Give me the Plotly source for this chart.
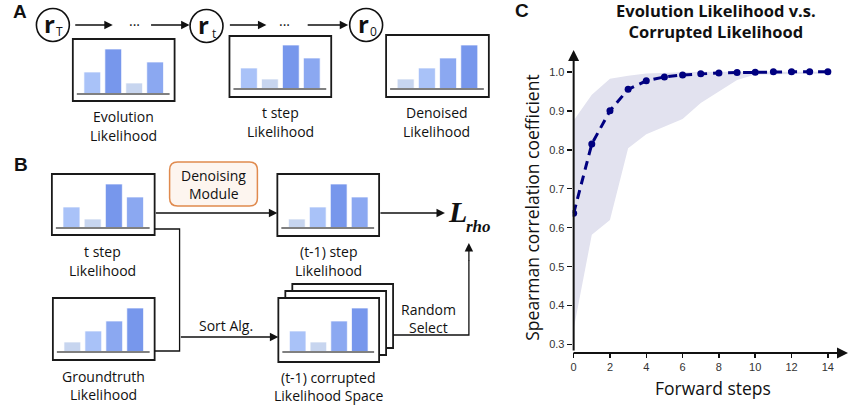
import plotly.graph_objects as go

W, H = 849, 408

# ---------------- data ----------------
steps = list(range(15))
mean_rho = [0.637, 0.815, 0.900, 0.955, 0.977, 0.987, 0.992, 0.995, 0.997, 0.998, 0.999, 1.0, 1.0, 1.0, 1.0]
upper_rho = [0.875, 0.941, 0.982, 0.990, 0.996, 0.998, 0.999, 1.0, 1.0, 1.0, 1.0, 1.0, 1.0, 1.0, 1.0]
lower_rho = [0.340, 0.582, 0.620, 0.804, 0.840, 0.860, 0.879, 0.920, 0.950, 0.979, 0.993, 0.994, 0.995, 0.995, 0.995]
x_ticks = [0, 2, 4, 6, 8, 10, 12, 14]
y_ticks = [0.3, 0.4, 0.5, 0.6, 0.7, 0.8, 0.9, 1.0]
y_tick_labels = ["0.3", "0.4", "0.5", "0.6", "0.7", "0.8", "0.9", "1.0"]

bins = [0, 1, 2, 3]
evolution_vals = [22, 45, 11, 32]
tstep_vals = [21, 10, 44, 31]
denoised_vals = [10, 21, 31, 44]
tstep_b_vals = [21, 9, 44, 31]
groundtruth_vals = [10, 21, 31, 44]
tm1_vals = [9, 21, 44, 31]
corrupted_vals = [21, 10, 31, 44]

# ---------------- helpers ----------------
def px(x):
    return x / W

def py(y):
    return 1 - y / H

FONT = "Open Sans"
CAP = 14
PALETTE = ["#c7d5ef", "#a9c2f8", "#8ba8f1", "#7797ec"]

shapes = []
annotations = []
fig = go.Figure()


def rank_colors(vals):
    order = sorted(range(len(vals)), key=lambda i: vals[i])
    cols = [None] * len(vals)
    for r, i in enumerate(order):
        cols[i] = PALETTE[r]
    return cols


def text(x, y, s, size=CAP, family=FONT, color="#111", **kw):
    annotations.append(dict(x=px(x), y=py(y), xref="paper", yref="paper", text=s,
                            showarrow=False, xanchor=kw.pop("xanchor", "center"),
                            yanchor=kw.pop("yanchor", "middle"),
                            font=dict(size=size, family=family, color=color), **kw))


def arrow(x0, y0, x1, y1, width=1.3, size=1.3, color="#111"):
    annotations.append(dict(x=px(x1), y=py(y1), xref="paper", yref="paper",
                            ax=x0 - x1, ay=y0 - y1, axref="pixel", ayref="pixel",
                            text="", showarrow=True, arrowhead=2, arrowsize=size,
                            arrowwidth=width, arrowcolor=color, standoff=0))


def line(points, width=1.3, color="#111"):
    d = "M " + " L ".join(f"{px(x)},{py(y)}" for x, y in points)
    shapes.append(dict(type="path", path=d, xref="paper", yref="paper",
                       line=dict(color=color, width=width), layer="above"))


def box(l, t, r, b, fill="white"):
    shapes.append(dict(type="rect", x0=px(l), x1=px(r), y0=py(b), y1=py(t),
                       xref="paper", yref="paper", fillcolor=fill,
                       line=dict(color="#1a1a1a", width=1.8), layer="below"))


mini_count = [1]


def mini_chart(vals, l, t, r, b, base):
    box(l, t, r, b)
    mini_count[0] += 1
    k = mini_count[0]
    fig.add_trace(go.Bar(x=bins, y=vals, xaxis=f"x{k}", yaxis=f"y{k}", width=0.8,
                         marker=dict(color=rank_colors(vals),
                                     line=dict(color="rgba(255,255,255,0.7)", width=1)),
                         hoverinfo="skip", showlegend=False))
    fig.update_layout(**{
        f"xaxis{k}": dict(domain=[px(l + 9), px(r - 9)], anchor=f"y{k}", visible=False,
                          range=[-0.5, 3.5], fixedrange=True),
        f"yaxis{k}": dict(domain=[py(base), py(base - 50)], anchor=f"x{k}", visible=False,
                          range=[0, 50], fixedrange=True),
    })
    shapes.append(dict(type="line", x0=px(l + 4), x1=px(r - 5), y0=py(base), y1=py(base),
                       xref="paper", yref="paper", line=dict(color="#808080", width=2),
                       layer="above"))


def circle(cx, cy, rad, main, sub):
    shapes.append(dict(type="circle", x0=px(cx - rad), x1=px(cx + rad), y0=py(cy + rad),
                       y1=py(cy - rad), xref="paper", yref="paper",
                       line=dict(color="#111", width=1.6), layer="above"))
    text(cx - 3, cy - 2, f"<b>{main}</b>", size=24)
    text(cx + 7, cy + 7, sub, size=12)


def rounded_rect(l, t, r, b, rad, fill, edge):
    d = (f"M {px(l + rad)},{py(t)} L {px(r - rad)},{py(t)} Q {px(r)},{py(t)} {px(r)},{py(t + rad)} "
         f"L {px(r)},{py(b - rad)} Q {px(r)},{py(b)} {px(r - rad)},{py(b)} "
         f"L {px(l + rad)},{py(b)} Q {px(l)},{py(b)} {px(l)},{py(b - rad)} "
         f"L {px(l)},{py(t + rad)} Q {px(l)},{py(t)} {px(l + rad)},{py(t)} Z")
    shapes.append(dict(type="path", path=d, xref="paper", yref="paper", fillcolor=fill,
                       line=dict(color=edge, width=1.5), layer="below"))


# ---------------- panel C : chart ----------------
fig.add_trace(go.Scatter(x=steps, y=upper_rho, mode="lines", line=dict(width=0, color="#e2e2ef"),
                         hoverinfo="skip", showlegend=False))
fig.add_trace(go.Scatter(x=steps, y=lower_rho, mode="lines", line=dict(width=0, color="#e2e2ef"),
                         fill="tonexty", fillcolor="#e2e2ef", hoverinfo="skip", showlegend=False))
fig.add_trace(go.Scatter(x=steps, y=mean_rho, mode="lines+markers",
                         line=dict(color="#000080", width=3, dash="9px,6px"),
                         marker=dict(color="#000080", size=7), showlegend=False))

x_left_px, x_right_px = 572, 849
y_top_px, y_bot_px = 50, 352
x_per = 18.2
fig.update_layout(
    xaxis=dict(domain=[px(x_left_px), 1.0], anchor="y",
               range=[-(573 - x_left_px) / x_per, (x_right_px - 573) / x_per],
               tickvals=x_ticks, ticks="outside", ticklen=5, tickwidth=1.5, tickcolor="#111",
               showline=False, showgrid=False, zeroline=False,
               tickfont=dict(family="Liberation Sans", size=11, color="#333")),
    yaxis=dict(domain=[py(y_bot_px), py(y_top_px)], anchor="x", range=[0.281, 1.056],
               tickvals=y_ticks, ticktext=y_tick_labels, ticks="outside", ticklen=5,
               tickwidth=1.5, tickcolor="#111", showline=False, showgrid=False, zeroline=False,
               tickfont=dict(family="Liberation Sans", size=11, color="#333")),
)
# axis arrows
arrow(572, 353, 848, 353, width=2, size=1.1)
arrow(573, 352, 573, 50, width=2, size=1.1)

text(716, 21, "<b>Evolution Likelihood v.s.</b><br><b>Corrupted Likelihood</b>", size=16.5)
text(713, 388, "Forward steps", size=17.5)
text(531, 208, "Spearman correlation coefficient", size=17.5, textangle=-90)

# panel letters
text(18, 11, "<b>A</b>", size=19, family="Liberation Sans")
text(19, 164, "<b>B</b>", size=19, family="Liberation Sans")
text(521, 10, "<b>C</b>", size=19, family="Liberation Sans")

# ---------------- panel A ----------------
circle(51, 25, 16.5, "r", "T")
circle(205, 26, 16.5, "r", "t")
circle(365, 25, 16.5, "r", "0")
arrow(72, 25, 111, 25)
text(133, 24, "···", size=14)
arrow(148, 25, 188, 25)
arrow(227, 25, 265, 25)
text(283, 24, "···", size=14)
arrow(305, 25, 347, 25)

mini_chart(evolution_vals, 71, 39, 173, 101, 94)
mini_chart(tstep_vals, 228, 36, 330, 97, 89)
mini_chart(denoised_vals, 385, 35, 488, 97, 89)

text(122, 117, "Evolution")
text(122, 136, "Likelihood")
text(279, 112, "t step")
text(279, 131, "Likelihood")
text(436, 112, "Denoised")
text(436, 131, "Likelihood")

# ---------------- panel B ----------------
# stacked corrupted boxes (back first)
box(291, 284, 392, 348)
box(284, 291, 385, 355)
mini_chart(tstep_b_vals, 50, 174, 153, 235, 228)
mini_chart(groundtruth_vals, 51, 298, 153, 360, 352)
mini_chart(tm1_vals, 276, 174, 378, 236, 228)
mini_chart(corrupted_vals, 277, 298, 378, 362, 352)

rounded_rect(168, 162, 256, 206, 8, "#fdf5ef", "#e08a4e")
text(212, 175, "Denoising")
text(212, 193, "Module")

arrow(153, 213, 276, 213)
line([(153, 229), (178, 229), (178, 351), (153, 351)])
arrow(178, 337, 277, 337)
text(225, 325, "Sort Alg.")

arrow(378, 213, 444, 213)
text(457, 211, "<b><i>L</i></b>", size=30, family="Liberation Serif")
text(478, 226, "<b><i>rho</i></b>", size=17, family="Liberation Serif")

line([(392, 335), (468, 335), (468, 260)])
arrow(468, 262, 468, 243)
text(428, 309, "Random")
text(428, 327, "Select")

text(101, 251, "t step")
text(101, 270, "Likelihood")
text(102, 376, "Groundtruth")
text(102, 394, "Likelihood")
text(327, 251, "(t-1) step")
text(327, 270, "Likelihood")
text(327, 377, "(t-1) corrupted")
text(327, 395, "Likelihood Space")

fig.update_layout(
    width=W, height=H, margin=dict(l=0, r=0, t=0, b=0),
    paper_bgcolor="white", plot_bgcolor="rgba(0,0,0,0)",
    shapes=shapes, annotations=annotations, showlegend=False,
    bargap=0.2,
)

fig.write_html(
    "out.html",
    config={"displayModeBar": False, "staticPlot": True},
    post_script="document.body.style.margin='0';document.body.style.overflow='hidden';",
)
